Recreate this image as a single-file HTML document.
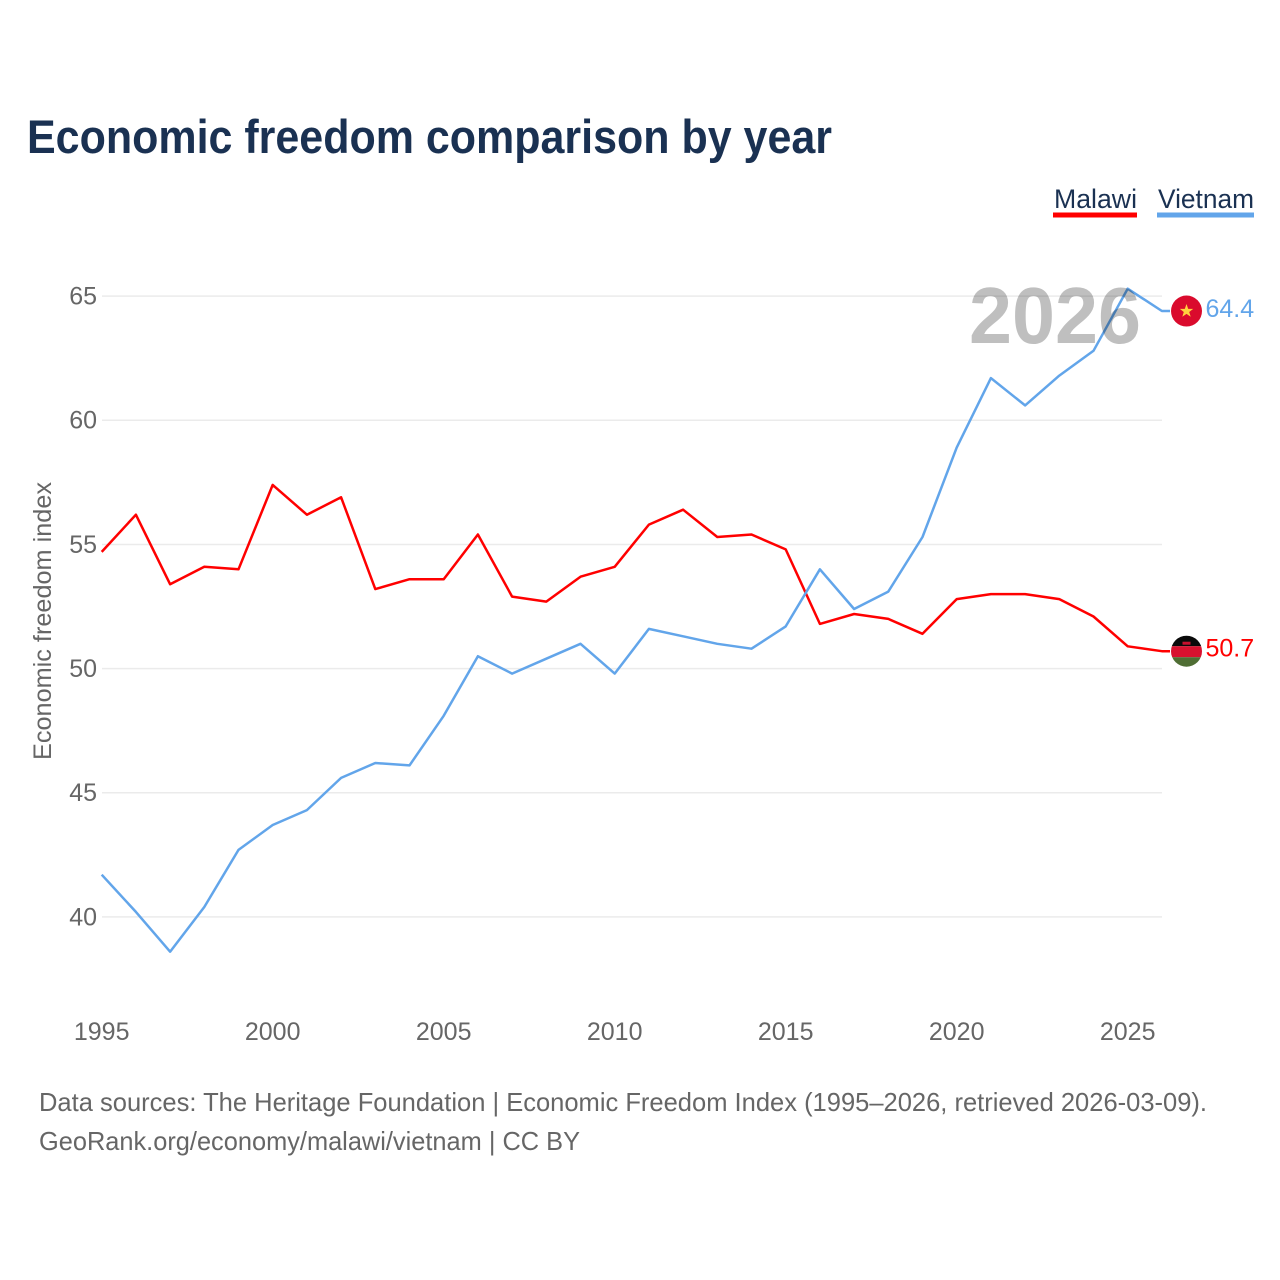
<!DOCTYPE html>
<html><head><meta charset="utf-8"><style>
html,body{margin:0;padding:0;background:#fff}
svg{display:block;font-family:"Liberation Sans",sans-serif}
</style></head><body>
<svg id="chart" width="1280" height="1280" viewBox="0 0 1280 1280" xmlns="http://www.w3.org/2000/svg">
<rect width="1280" height="1280" fill="#fff"/>
<text x="27" y="153" font-size="47" font-weight="700" fill="#1a3152" textLength="805" lengthAdjust="spacingAndGlyphs">Economic freedom comparison by year</text>
<g>
<text x="1054" y="208" font-size="27" fill="#1a3152" textLength="83" lengthAdjust="spacingAndGlyphs">Malawi</text>
<rect x="1053" y="212.500" width="84" height="5" fill="#ff0000"/>
</g>
<g>
<text x="1158" y="208" font-size="27" fill="#1a3152" textLength="96" lengthAdjust="spacingAndGlyphs">Vietnam</text>
<rect x="1157" y="212.500" width="97" height="5" fill="#62a5ea"/>
</g>
<g id="grid"></g>
<g id="yticks"></g>
<g id="xticks"></g>
<text transform="translate(51,621) rotate(-90)" text-anchor="middle" font-size="25" fill="#666" textLength="278" lengthAdjust="spacingAndGlyphs">Economic freedom index</text>
<g id="series"></g>
<text x="969" y="343" font-size="80" font-weight="700" fill="#000" fill-opacity="0.25" textLength="172" lengthAdjust="spacingAndGlyphs">2026</text>
<g id="flag-vietnam">
<circle cx="0" cy="0" r="15.500" fill="#da0b2d"/>
<polygon points="0,-7 1.700,-2.200 6.700,-2.200 2.700,0.900 4.200,5.700 0,2.800 -4.200,5.700 -2.700,0.900 -6.700,-2.200 -1.700,-2.200" fill="#ffd23f"/>
</g>
<g id="flag-malawi">
<clipPath id="malawi-clip"><circle cx="0" cy="0" r="15.500"/></clipPath>
<g clip-path="url(#malawi-clip)">
<rect x="-16" y="-16" width="32" height="11" fill="#0a0a0a"/>
<rect x="-16" y="-5" width="32" height="11" fill="#d8112f"/>
<rect x="-16" y="6" width="32" height="10" fill="#4f6e34"/>
<rect x="-4" y="-9.500" width="8" height="3" fill="#c8102e"/>
</g>
</g>
<text id="label-vietnam" font-size="25" fill="#62a5ea"></text>
<text id="label-malawi" font-size="25" fill="#ff0000"></text>
<text x="39" y="1111" font-size="26" fill="#666" textLength="1168" lengthAdjust="spacingAndGlyphs">Data sources: The Heritage Foundation | Economic Freedom Index (1995–2026, retrieved 2026-03-09).</text>
<text x="39" y="1150" font-size="26" fill="#666" textLength="541" lengthAdjust="spacingAndGlyphs">GeoRank.org/economy/malawi/vietnam | CC BY</text>
</svg>
<script>
const years = [1995,1996,1997,1998,1999,2000,2001,2002,2003,2004,2005,2006,2007,2008,2009,2010,2011,2012,2013,2014,2015,2016,2017,2018,2019,2020,2021,2022,2023,2024,2025,2026];
const malawi = [54.7,56.2,53.4,54.1,54.0,57.4,56.2,56.9,53.2,53.6,53.6,55.4,52.9,52.7,53.7,54.1,55.8,56.4,55.3,55.4,54.8,51.8,52.2,52.0,51.4,52.8,53.0,53.0,52.8,52.1,50.9,50.7];
const vietnam = [41.7,40.2,38.6,40.4,42.7,43.7,44.3,45.6,46.2,46.1,48.1,50.5,49.8,50.4,51.0,49.8,51.6,51.3,51.0,50.8,51.7,54.0,52.4,53.1,55.3,58.9,61.7,60.6,61.8,62.8,65.3,64.4];
const yTickValues = [40,45,50,55,60,65];
const xTickValues = [1995,2000,2005,2010,2015,2020,2025];

const NS = 'http://www.w3.org/2000/svg';
function xScale(year){ return 101.7 + (year - 1995) * 34.2; }
function yScale(value){ return 916.9 - (value - 40) * 24.83; }
function make(tag, attrs, parent){
  const el = document.createElementNS(NS, tag);
  for (const k in attrs) el.setAttribute(k, attrs[k]);
  parent.appendChild(el);
  return el;
}
const grid = document.getElementById('grid');
const yticks = document.getElementById('yticks');
const xticks = document.getElementById('xticks');
const series = document.getElementById('series');
yTickValues.forEach(function(v){
  const line = make('line', {x1:102, x2:1162, y1:yScale(v), y2:yScale(v), stroke:'#ebebeb', 'stroke-width':1.5}, grid);
  
  
  const t = make('text', {x:97, y:yScale(v)+8.4, 'text-anchor':'end', 'font-size':25, fill:'#666'}, yticks);
  
  
  t.textContent = v;
});
xTickValues.forEach(function(v){
  const t = make('text', {x:xScale(v), y:1040, 'text-anchor':'middle', 'font-size':25, fill:'#666'}, xticks);
  
  
  t.textContent = v;
});
function pathFor(values){
  return values.map(function(v,i){ return xScale(years[i]).toFixed(1)+','+yScale(v).toFixed(1); }).join(' ');
}
const lastM = malawi[malawi.length-1];
const lastV = vietnam[vietnam.length-1];
const malawiLine = make('polyline', {points:pathFor(malawi)+' 1170,'+yScale(lastM).toFixed(1), fill:'none', stroke:'#ff0000', 'stroke-width':2.5, 'stroke-linejoin':'round'}, series);


const vietnamLine = make('polyline', {points:pathFor(vietnam)+' 1170,'+yScale(lastV).toFixed(1), fill:'none', stroke:'#62a5ea', 'stroke-width':2.5, 'stroke-linejoin':'round'}, series);



document.getElementById('flag-vietnam').setAttribute('transform', 'translate(1186.5,'+yScale(lastV)+')');
document.getElementById('flag-malawi').setAttribute('transform', 'translate(1186.5,'+yScale(lastM)+')');
const lv = document.getElementById('label-vietnam');
lv.setAttribute('x', 1205.500);
lv.setAttribute('y', yScale(lastV)+6);
lv.textContent = lastV.toFixed(1);
const lm = document.getElementById('label-malawi');
lm.setAttribute('x', 1205.500);
lm.setAttribute('y', yScale(lastM)+5.500);
lm.textContent = lastM.toFixed(1);
</script>
</body></html>
